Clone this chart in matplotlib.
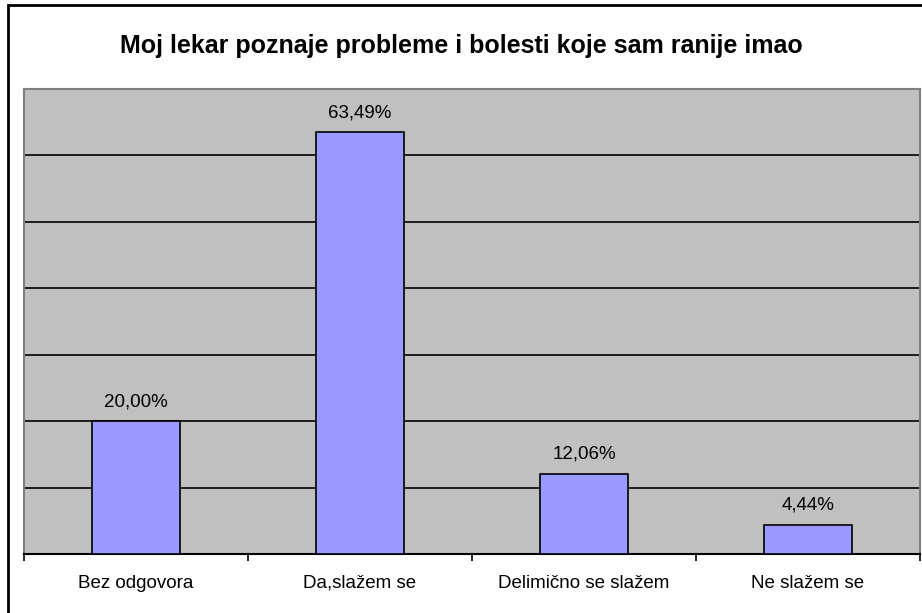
import matplotlib.pyplot as plt
from matplotlib.patches import Rectangle

categories = ["Bez odgovora", "Da,slažem se", "Delimično se slažem", "Ne slažem se"]
values = [20.00, 63.49, 12.06, 4.44]
title = "Moj lekar poznaje probleme i bolesti koje sam ranije imao"

plt.rcParams['font.family'] = ['Liberation Sans', 'DejaVu Sans']

fig = plt.figure(figsize=(9.22, 6.13), dpi=100)
ax = fig.add_axes([24 / 922, 59 / 613, 896 / 922, 465 / 613])

# outer chart frame (only left and top edges are visible)
fig.patches.append(Rectangle((8 / 922, -0.1), 1.2, 1.1 - 5 / 613, transform=fig.transFigure,
                             fill=False, edgecolor="black", linewidth=2))

ax.set_facecolor("#C0C0C0")
x = range(len(categories))
ax.bar(x, values, width=0.39, color="#9999FF", edgecolor="black", linewidth=1.2, zorder=3)

ax.set_xlim(-0.5, len(categories) - 0.5)
ax.set_ylim(0, 70)
ax.set_yticks(range(0, 71, 10))
ax.yaxis.grid(True, color="black", linewidth=1.2, zorder=0)
ax.tick_params(axis="y", left=False, labelleft=False)

ax.set_xticks(x)
ax.set_xticklabels(categories, fontsize=13.5)
ax.set_xticks([i + 0.5 for i in range(-1, len(categories))], minor=True)
ax.tick_params(axis="x", which="major", length=0, pad=15)
ax.tick_params(axis="x", which="minor", length=5, width=1.2, color="black")

for s in ["top", "left", "right"]:
    ax.spines[s].set_color("#808080")
    ax.spines[s].set_linewidth(1.5)
ax.spines["bottom"].set_color("black")
ax.spines["bottom"].set_linewidth(1.5)

for i, v in enumerate(values):
    ax.annotate(f"{v:.2f}%".replace(".", ","), (i, v), xytext=(0, 8),
                textcoords="offset points", ha="center", va="bottom", fontsize=13.5)

fig.text(0.5, 1 - 46 / 613, title, ha="center", va="center", fontsize=18, fontweight="bold")

fig.savefig("out.png", dpi=100)
